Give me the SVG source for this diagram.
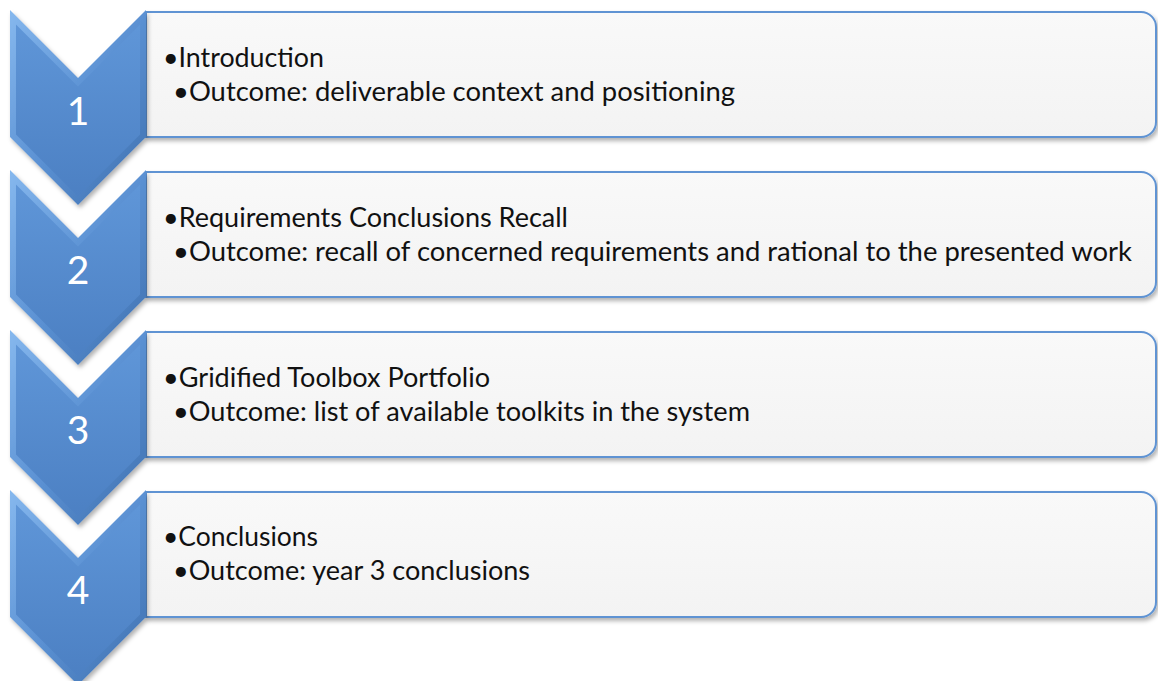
<svg xmlns="http://www.w3.org/2000/svg" width="1158" height="681" viewBox="0 0 1158 681">
<defs>
<linearGradient id="boxg" x1="0" y1="0" x2="0" y2="1">
<stop offset="0" stop-color="#f9f9f9"/><stop offset="1" stop-color="#f3f3f3"/>
</linearGradient>
<linearGradient id="chevOut" x1="0" y1="0" x2="1" y2="1">
<stop offset="0" stop-color="#86b8ee"/><stop offset="0.5" stop-color="#5b91d3"/><stop offset="1" stop-color="#3e6fae"/>
</linearGradient>
<linearGradient id="chevIn" x1="0" y1="0" x2="0" y2="1">
<stop offset="0" stop-color="#5f96d8"/><stop offset="1" stop-color="#4c80c3"/>
</linearGradient>
<filter id="sh" x="-5%" y="-10%" width="110%" height="130%">
<feDropShadow dx="2" dy="3" stdDeviation="2" flood-color="#000" flood-opacity="0.3"/>
</filter>
<path id="box" d="M146,0 H1141 A15,15 0 0 1 1156,15 V110 A15,15 0 0 1 1141,125 H146 Z"/>
<polygon id="chevO" points="10,0 78,68 146,0 146,127 78,195 10,127"/>
<polygon id="chevI" points="16,14.5 78,76.5 140,14.5 140,124.5 78,186.5 16,124.5"/>
</defs>
<style>
.box{fill:url(#boxg);stroke:#5f93d3;stroke-width:2;filter:url(#sh)}
.co{fill:url(#chevOut);filter:url(#sh)}
.ci{fill:url(#chevIn)}
.num{font-family:Lato,"Open Sans",sans-serif;font-size:39px;fill:#fff;text-anchor:middle}
.t{font-family:Lato,"Open Sans",sans-serif;font-size:26px;fill:#111}
</style>
<rect width="1158" height="681" fill="#fff"/>
<g id="box1" transform="translate(0,12)">
<use href="#box" class="box"/>
<text class="t" x="163" y="55" textLength="161" lengthAdjust="spacingAndGlyphs">•Introduction</text>
<text class="t" x="173" y="89" textLength="562" lengthAdjust="spacingAndGlyphs">•Outcome: deliverable context and positioning</text>
</g>
<g id="box2" transform="translate(0,172)">
<use href="#box" class="box"/>
<text class="t" x="163" y="55" textLength="405" lengthAdjust="spacingAndGlyphs">•Requirements Conclusions Recall</text>
<text class="t" x="173" y="89" textLength="959" lengthAdjust="spacingAndGlyphs">•Outcome: recall of concerned requirements and rational to the presented work</text>
</g>
<g id="box3" transform="translate(0,332)">
<use href="#box" class="box"/>
<text class="t" x="163" y="55" textLength="327" lengthAdjust="spacingAndGlyphs">•Gridified Toolbox Portfolio</text>
<text class="t" x="173" y="89" textLength="577" lengthAdjust="spacingAndGlyphs">•Outcome: list of available toolkits in the system</text>
</g>
<g id="box4" transform="translate(0,492)">
<use href="#box" class="box"/>
<text class="t" x="163" y="54" textLength="155" lengthAdjust="spacingAndGlyphs">•Conclusions</text>
<text class="t" x="173" y="88" textLength="357" lengthAdjust="spacingAndGlyphs">•Outcome: year 3 conclusions</text>
</g>
<g id="chev1" transform="translate(0,10)">
<use href="#chevO" class="co"/><use href="#chevI" class="ci"/>
<text class="num" x="78" y="115">1</text>
</g>
<g id="chev2" transform="translate(0,170)">
<use href="#chevO" class="co"/><use href="#chevI" class="ci"/>
<text class="num" x="78" y="114">2</text>
</g>
<g id="chev3" transform="translate(0,330)">
<use href="#chevO" class="co"/><use href="#chevI" class="ci"/>
<text class="num" x="78" y="114">3</text>
</g>
<g id="chev4" transform="translate(0,490)">
<use href="#chevO" class="co"/><use href="#chevI" class="ci"/>
<text class="num" x="78" y="114">4</text>
</g>
<g id="connectors"/>
</svg>
